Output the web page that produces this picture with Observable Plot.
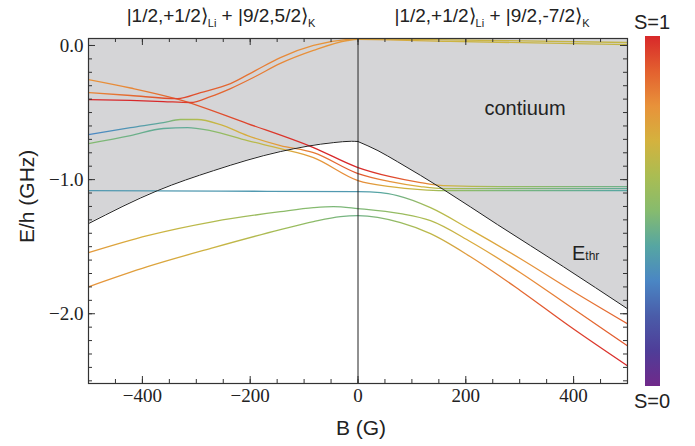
<!DOCTYPE html>
<html><head><meta charset="utf-8">
<script src="https://cdn.jsdelivr.net/npm/d3@7"></script>
<script src="https://cdn.jsdelivr.net/npm/@observablehq/plot@0.6"></script>
<style>
body{margin:0;background:#fff;}
#wrap{position:relative;width:695px;height:446px;font-family:"Liberation Sans",Arial,sans-serif;color:#222;overflow:hidden;}
#wrap svg{position:absolute;left:0;top:0;}
.lbl{position:absolute;white-space:nowrap;line-height:20px;}
.sub{font-size:11px;position:relative;top:5px;}
.tick{font-family:"Liberation Serif","DejaVu Serif",serif;}
</style></head><body><div id="wrap"></div>
<script>
// ---- data ----
const xTickLabels = [-400, -200, 0, 200, 400];
const yTickLabels = [0, -1, -2];
const yDomain = [-2.52, 0.052];
// S colour scale stops
const sStops  = [0, 0.1, 0.2, 0.3, 0.4, 0.5, 0.6, 0.7, 0.8, 0.9, 1];
const sColors = ["#70298a","#4f3d98","#4a5ca9","#4a86c4","#56a6a2","#86bb6e","#aabd52","#d4b23e","#e8923a","#e3602f","#d8282a"];
// threshold E_thr  [B (G), E/h (GHz)]
const thresholdLeft  = [[-500,-1.328],[-372,-1.082],[-268,-0.933],[-144,-0.791],[-45,-0.724],[-12,-0.714],[0,-0.716]];
const thresholdRight = [[0,-0.716],[37,-0.784],[73,-0.866],[159,-1.075],[259,-1.336],[381,-1.649],[500,-1.963]];
// level curves [B, E, S]
const curveA = [[-500,-0.254,0.80],[-422,-0.317,0.82],[-335,-0.400,0.90],[-205,-0.582,0.95],[-82.6,-0.761,1.00],[0,-0.910,1.00],[60,-0.978,0.95],[116,-1.022,0.85],[158.6,-1.045,0.70],[264,-1.052,0.55],[500,-1.052,0.45]];
const curveB = [[-500,-0.351,0.82],[-422,-0.373,0.88],[-335,-0.396,0.95],[-292,-0.351,0.92],[-236.5,-0.284,0.88],[-190.4,-0.187,0.85],[-144,-0.090,0.82],[-82.6,0.000,0.80],[-19.5,0.045,0.78],[0,0.050,0.75],[170,0.042,0.68],[500,0.022,0.66]];
const curveC = [[-500,-0.403,1.0],[-422,-0.410,1.0],[-361,-0.418,1.0],[-310.8,-0.425,0.95],[-273.7,-0.381,0.90],[-236.5,-0.321,0.88],[-190.4,-0.231,0.85],[-144,-0.134,0.82],[-82.6,-0.037,0.80],[-19.5,0.037,0.78],[0,0.046,0.75],[170,0.030,0.68],[500,0.007,0.66]];
const curveD = [[-500,-0.664,0.30],[-422,-0.612,0.35],[-361,-0.575,0.42],[-329.5,-0.552,0.55],[-298,-0.552,0.62],[-255,-0.590,0.68],[-205,-0.672,0.72],[-144,-0.746,0.78],[-82.6,-0.799,0.85],[0,-0.955,0.92],[60,-1.015,0.80],[116,-1.052,0.70],[158.6,-1.067,0.60],[264,-1.067,0.50],[500,-1.067,0.42]];
const curveE = [[-500,-0.731,0.50],[-422,-0.672,0.45],[-361,-0.619,0.42],[-316,-0.612,0.42],[-274,-0.634,0.50],[-205,-0.709,0.62],[-144,-0.769,0.70],[-82.6,-0.836,0.78],[0,-1.007,0.82],[60,-1.052,0.72],[116,-1.075,0.65],[158.6,-1.082,0.55],[264,-1.082,0.48],[500,-1.082,0.40]];
const curveF = [[-500,-1.082,0.36],[-255,-1.086,0.36],[0,-1.090,0.36],[42,-1.097,0.40],[73,-1.119,0.45],[134.5,-1.209,0.60],[208.7,-1.373,0.70],[301.5,-1.590,0.78],[394,-1.821,0.84],[500,-2.075,0.90]];
const curveG = [[-500,-1.545,0.78],[-390.5,-1.418,0.70],[-268,-1.313,0.62],[-144,-1.239,0.52],[-82.6,-1.209,0.50],[-45.5,-1.201,0.48],[0,-1.216,0.48],[79,-1.254,0.55],[134.5,-1.306,0.62],[208.7,-1.463,0.72],[301.5,-1.694,0.80],[394,-1.948,0.86],[500,-2.239,0.92]];
const curveH = [[-500,-1.799,0.80],[-390.5,-1.649,0.75],[-268,-1.507,0.68],[-144,-1.373,0.58],[-82.6,-1.313,0.52],[-32.5,-1.276,0.47],[0,-1.269,0.45],[79,-1.321,0.55],[134.5,-1.403,0.65],[208.7,-1.575,0.78],[301.5,-1.828,0.88],[394,-2.097,0.95],[500,-2.388,1.00]];

// ---- layout ----
const W = 695, H = 446, mL = 88, mR = 68, mT = 38, mB = 63;
const innerW = W - mL - mR, innerH = H - mT - mB;
const yTop = yDomain[1];
const xMinor = d3.range(-450, 451, 50);
const xMajor = xTickLabels;
const yMinor = d3.range(0, 26).map(i => -i / 10);
const yMajor = yTickLabels;

const colorOf = d3.scaleLinear().domain(sStops).range(sColors).clamp(true);
const curves = {A: curveA, B: curveB, C: curveC, D: curveD, E: curveE, F: curveF, G: curveG, H: curveH};

function gradientDefs(index, scales) {
  const defs = d3.create("svg:defs");
  const x0 = scales.x(-500), x1 = scales.x(500);
  for (const [name, pts] of Object.entries(curves)) {
    const g = defs.append("linearGradient").attr("id", "grad" + name)
      .attr("gradientUnits", "userSpaceOnUse")
      .attr("x1", x0).attr("x2", x1).attr("y1", 0).attr("y2", 0);
    for (const [B, , S] of pts) {
      g.append("stop").attr("offset", (scales.x(B) - x0) / (x1 - x0)).attr("stop-color", colorOf(S));
    }
  }
  return defs.node();
}

const gray = "#d5d5d7";
const ink = "#222";
const marks = [
  gradientDefs,
  Plot.areaY(thresholdLeft, {x: d => d[0], y1: d => d[1], y2: () => yTop, fill: gray, curve: "monotone-x"}),
  Plot.areaY(thresholdRight, {x: d => d[0], y1: d => d[1], y2: () => yTop, fill: gray, curve: "monotone-x"}),
];
for (const [name, pts] of Object.entries(curves)) {
  marks.push(Plot.line(pts, {x: d => d[0], y: d => d[1], stroke: `url(#grad${name})`, strokeWidth: 1.3, curve: "monotone-x", clip: true}));
}
marks.push(
  Plot.line(thresholdLeft, {x: d => d[0], y: d => d[1], stroke: ink, strokeWidth: 1, curve: "monotone-x"}),
  Plot.line(thresholdRight, {x: d => d[0], y: d => d[1], stroke: ink, strokeWidth: 1, curve: "monotone-x"}),
  Plot.ruleX([0], {stroke: ink, strokeWidth: 1}),
  Plot.frame({stroke: "#333", strokeWidth: 1.2}),
  // inward ticks, all four sides
  Plot.tickX(xMinor, {x: d => d, insetTop: innerH - 4, stroke: "#333"}),
  Plot.tickX(xMinor, {x: d => d, insetBottom: innerH - 4, stroke: "#333"}),
  Plot.tickX(xMajor, {x: d => d, insetTop: innerH - 7, stroke: "#333"}),
  Plot.tickX(xMajor, {x: d => d, insetBottom: innerH - 7, stroke: "#333"}),
  Plot.tickY(yMinor, {y: d => d, insetRight: innerW - 4, stroke: "#333"}),
  Plot.tickY(yMinor, {y: d => d, insetLeft: innerW - 4, stroke: "#333"}),
  Plot.tickY(yMajor, {y: d => d, insetRight: innerW - 7, stroke: "#333"}),
  Plot.tickY(yMajor, {y: d => d, insetLeft: innerW - 7, stroke: "#333"}),
  // tick labels as text marks anchored to the frame
  Plot.text(xTickLabels, {x: d => d, frameAnchor: "bottom", dy: 18, text: d3.format("d"), fontSize: 19, fontFamily: "Liberation Serif", className: "tick", fill: ink}),
  Plot.text(yTickLabels, {y: d => d, frameAnchor: "left", dx: -5, textAnchor: "end", text: d3.format(".1f"), fontSize: 19, fontFamily: "Liberation Serif", className: "tick", fill: ink})
);

const chart = Plot.plot({
  width: W, height: H,
  marginLeft: mL, marginRight: mR, marginTop: mT, marginBottom: mB,
  style: {background: "transparent", overflow: "visible", color: ink},
  x: {domain: [-500, 500], axis: null},
  y: {domain: yDomain, axis: null},
  marks
});
const wrap = document.getElementById("wrap");
wrap.appendChild(chart);

// ---- HTML annotations ----
function label(html, x, baseline, size, anchor = "middle") {
  const d = document.createElement("div");
  d.className = "lbl";
  d.innerHTML = html;
  d.style.fontSize = size + "px";
  d.style.lineHeight = size + "px";
  d.style.top = (baseline - size * 0.86) + "px";
  d.style.left = x + "px";
  d.style.transform = anchor === "middle" ? "translateX(-50%)" : anchor === "end" ? "translateX(-100%)" : "";
  wrap.appendChild(d);
  return d;
}
label('|1/2,+1/2⟩<span class="sub">Li</span> + |9/2,5/2⟩<span class="sub">K</span>', 221, 22, 19);
label('|1/2,+1/2⟩<span class="sub">Li</span> + |9/2,-7/2⟩<span class="sub">K</span>', 492, 22, 19);
label('contiuum', 525, 115, 20);
label('E<span style="font-size:12px">thr</span>', 572, 260, 20, "start");
label('B (G)', 361, 435, 21);
label('S=1', 652, 29, 20);
label('S=0', 652, 408, 20);
// rotated y-axis title
const yl = label('E/h (GHz)', 0, 0, 21, "start");
yl.style.left = "0px"; yl.style.top = "0px";
yl.style.transformOrigin = "0 0";
yl.style.transform = "translate(16px, 243px) rotate(-90deg)";

// colour bar
const bar = document.createElement("div");
bar.style.cssText = "position:absolute;left:645px;top:36px;width:15px;height:350px;";
bar.style.background = "linear-gradient(to top, " + sStops.map((s, i) => `${sColors[i]} ${s * 100}%`).join(", ") + ")";
wrap.appendChild(bar);
</script></body></html>
